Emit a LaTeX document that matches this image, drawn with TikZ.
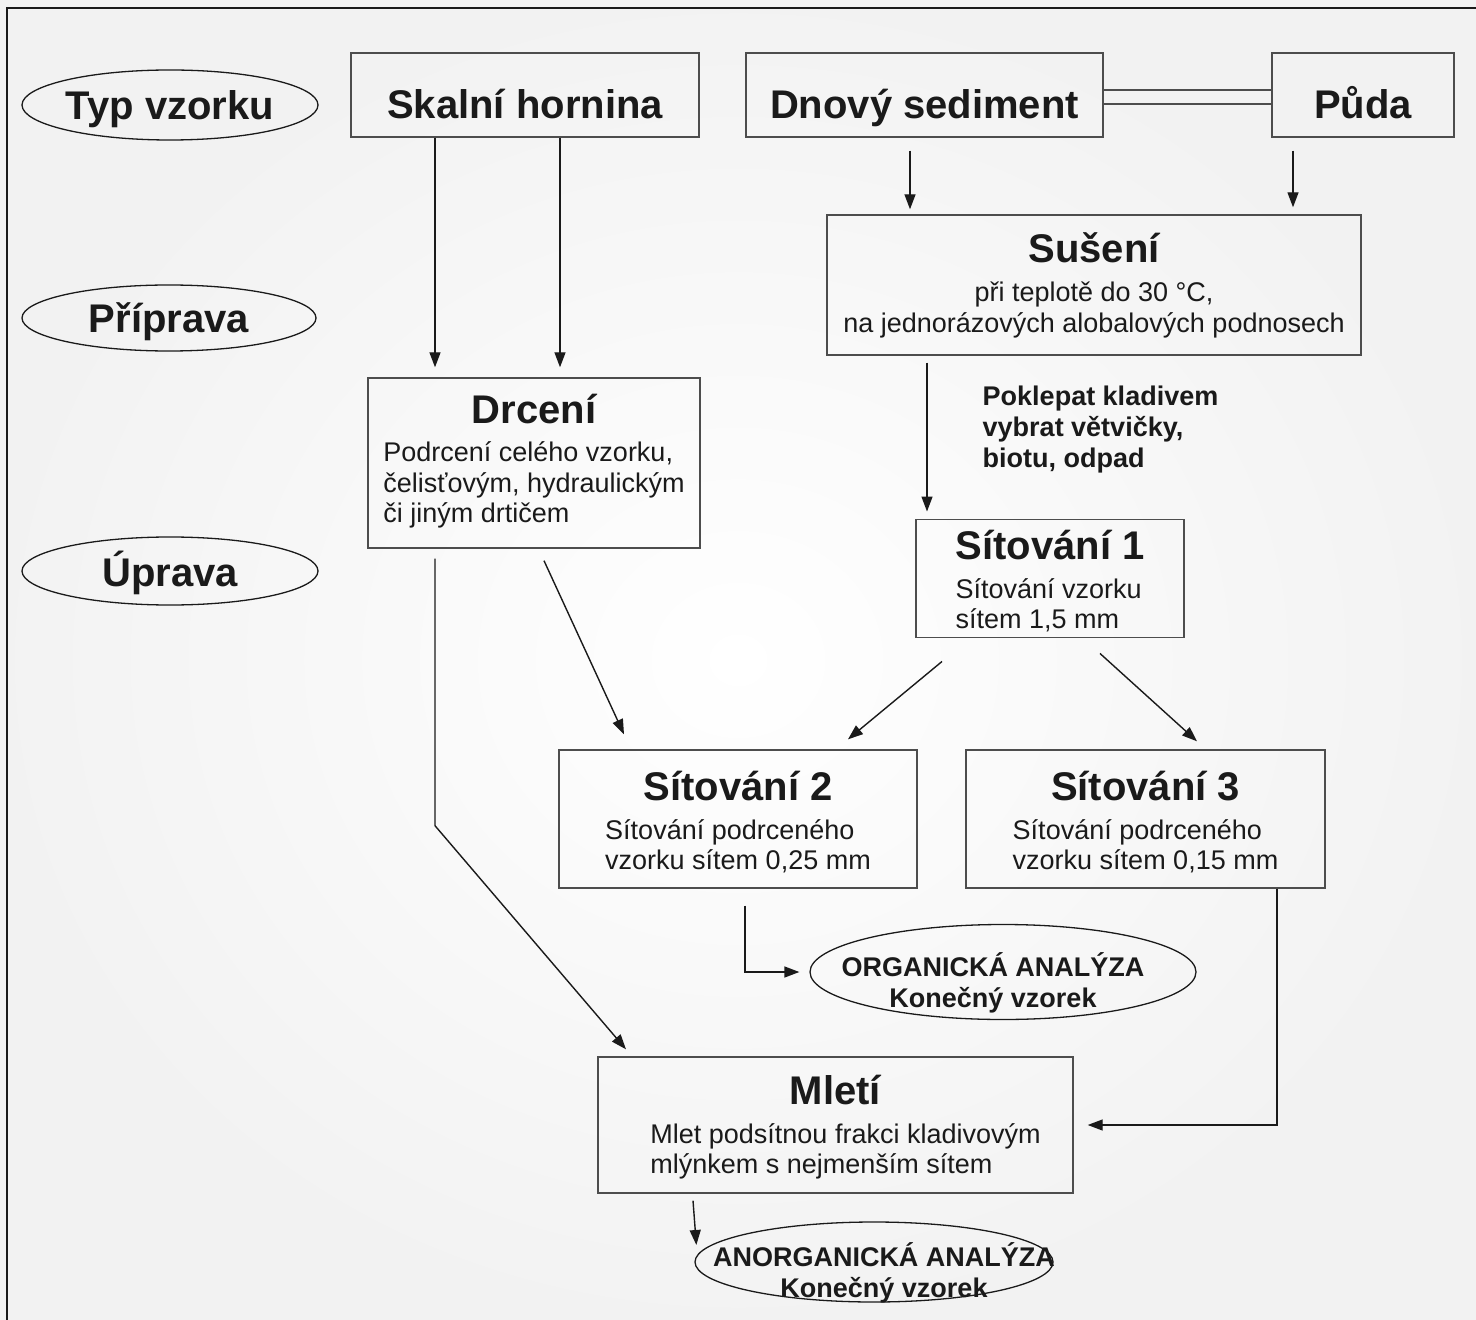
\documentclass[tikz,border=0pt]{standalone}
\usepackage{fontspec}
\setmainfont{Liberation Sans}
\usepackage{xcolor}
\definecolor{flowink}{HTML}{1A1A1A}
\definecolor{flowline}{HTML}{4D4D4D}
\usetikzlibrary{arrows.meta,shapes.geometric,calc}

\newcommand{\headfont}{\fontsize{20}{24}\selectfont\bfseries}
% #1 indent of the body lines, #2 strut of the heading row
\newcommand{\stagetext}[4][0pt]{\begin{tabular}{@{\hspace{#1}}l@{}}\multicolumn{1}{@{}c@{}}{\rule{0pt}{#2}\headfont #3}\\[4pt] #4\end{tabular}}
\newcommand{\resulttext}[2]{\smash{\makebox[0pt]{\hspace*{#1}\raisebox{-10pt}{\begin{tabular}{@{}c@{}}#2\end{tabular}}}}}

\begin{document}
\begin{tikzpicture}[
  x=0.5pt, y=-0.5pt,
  every node/.style={font=\fontsize{13.5}{15.25}\selectfont, text=flowink},
  stage/.style={rectangle, draw=flowline, line width=0.7pt, inner sep=0pt, align=center},
  kind/.style={stage, font=\headfont, text height=24pt, text depth=0pt},
  phase/.style={ellipse, draw=flowink, line width=0.65pt, inner sep=0pt, font=\headfont, text height=15pt, text depth=0pt},
  result/.style={ellipse, draw=flowink, line width=0.65pt, inner sep=0pt, font=\fontsize{13.5}{15.5}\selectfont\bfseries},
  note/.style={font=\fontsize{13.5}{15.5}\selectfont\bfseries, align=left, inner sep=0pt},
  arr/.style={-{Triangle[length=7.5pt,width=5.5pt]}, line width=0.7pt, flowink},
  link/.style={line width=0.7pt, flowline},
]
  \useasboundingbox (0,0) rectangle (1476,1320);
  \shade[inner color=white, outer color=black!5] (0,0) rectangle (1476,1320);
  \draw[line width=1.4pt, flowink] (7,1320) |- (1476,8);

  % phases on the left
  \node[phase, minimum width=148pt, minimum height=35pt] (typ)    at (170,105) {Typ vzorku};
  \node[phase, minimum width=147pt, minimum height=33pt] (prip)   at (169,318) {Příprava};
  \node[phase, minimum width=148pt, minimum height=34pt] (uprava) at (170,571) {Úprava};

  % sample types
  \node[kind, minimum width=174pt, minimum height=42pt]   (skal) at (525,95)   {Skalní hornina};
  \node[kind, minimum width=178.5pt, minimum height=42pt] (sed)  at (924.5,95) {Dnový sediment};
  \node[kind, minimum width=91pt, minimum height=42pt]    (puda) at (1363,95)  {Půda};
  \draw[link] ([yshift=2.5pt]sed.east) -- ([yshift=2.5pt]puda.west);
  \draw[link] ([yshift=-4.5pt]sed.east) -- ([yshift=-4.5pt]puda.west);

  % processing steps
  \node[stage, minimum width=267pt, minimum height=70pt] (sus) at (1094,285)
    {{\headfont Sušení}\\[4.5pt] při teplotě do 30~°C,\\ na jednorázových alobalových podnosech};
  \node[stage, minimum width=166pt, minimum height=85pt] (drc) at (534,463)
    {\stagetext{0pt}{Drcení}{Podrcení celého vzorku,\\ čelisťovým, hydraulickým\\ či jiným drtičem}};
  \node[stage, minimum width=134pt, minimum height=58.5pt] (sit1) at (1050,578.5)
    {\stagetext{20.2pt}{Sítování 1}{Sítování vzorku\\ sítem 1,5 mm}};
  \node[stage, minimum width=179pt, minimum height=69pt] (sit2) at (738,819)
    {\stagetext{21pt}{Sítování 2}{Sítování podrceného\\ vzorku sítem 0,25 mm}};
  \node[stage, minimum width=179.5pt, minimum height=69pt] (sit3) at (1145.5,819)
    {\stagetext{21pt}{Sítování 3}{Sítování podrceného\\ vzorku sítem 0,15 mm}};
  \node[stage, minimum width=237.5pt, minimum height=68pt] (mle) at (835.5,1125)
    {\stagetext[10pt]{19pt}{Mletí}{Mlet podsítnou frakci kladivovým\\ mlýnkem s nejmenším sítem}};

  % final samples
  \node[result, minimum width=193pt, minimum height=47.5pt] (org) at (1003,972)
    {\resulttext{-10pt}{ORGANICKÁ ANALÝZA\\ Konečný vzorek}};
  \node[result, minimum width=179pt, minimum height=40pt] (anorg) at (874,1262)
    {\resulttext{10pt}{ANORGANICKÁ ANALÝZA\\ Konečný vzorek}};

  % flow
  \draw[arr] ($(skal.south)+(-90,0)$) -- ($(drc.north)+(-99,-10)$);
  \draw[arr] ($(skal.south)+(35,0)$) -- ($(drc.north)+(26,-10)$);
  \draw[arr] ($(sed.south)+(-14.5,13)$) -- ($(sus.north)+(-184,-5)$);
  \draw[arr] ($(puda.south)+(-70,13)$) -- ($(sus.north)+(199,-7)$);
  \draw[arr] ($(sus.south)+(-167,7)$) --
    node[note, pos=0.5, anchor=west, xshift=27.5pt, yshift=3.75pt] (knock)
      {Poklepat kladivem\\ vybrat větvičky,\\ biotu, odpad}
    ($(sit1.north)+(-123,-7)$);
  \draw[arr] ($(sit1.south)+(-108,23)$) -- ($(sit2.north)+(110,-10)$);
  \draw[arr] ($(sit1.south)+(50,15)$) -- ($(sit3.north)+(51.5,-8)$);
  \draw[arr] ($(drc.south)+(10,12)$) -- ($(sit2.north)+(-114,-15)$);
  \draw[arr] ($(drc.south)+(-99,10)$) -- ++(0,267) -- ($(mle.north)+(-209.5,-7)$);
  \draw[arr, shorten >=5pt] ($(sit2.south)+(7,17)$) |- (org.west);
  \draw[arr, shorten >=7pt] ($(sit3.south)+(131.5,0)$) |- (mle.east);
  \draw[arr] ($(mle.south)+(-142.5,7)$) -- ($(anorg.west)+(2,-17)$);
\end{tikzpicture}
\end{document}
